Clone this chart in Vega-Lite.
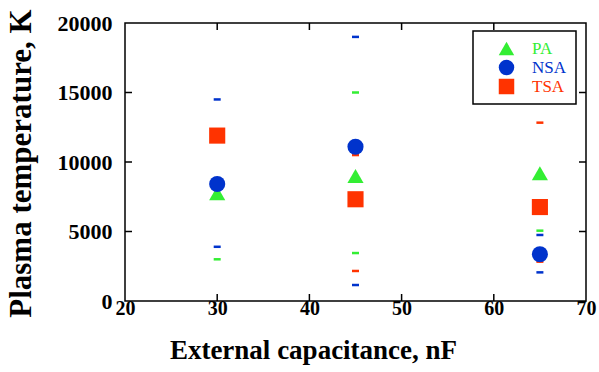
{
  "$schema": "https://vega.github.io/schema/vega-lite/v6.json",
  "autosize": {"type": "none"},
  "width": 461,
  "height": 278,
  "padding": {"left": 125, "top": 23, "right": 13, "bottom": 71},
  "background": "white",
  "config": {
    "view": {"stroke": "black", "strokeWidth": 1.5},
    "font": "Liberation Serif"
  },
  "datasets": {
    "xt": [
      {"c": 30, "t": 0}, {"c": 40, "t": 0}, {"c": 50, "t": 0}, {"c": 60, "t": 0},
      {"c": 30, "t": 20000}, {"c": 40, "t": 20000}, {"c": 50, "t": 20000}, {"c": 60, "t": 20000}
    ],
    "yt": [
      {"c": 20, "t": 5000}, {"c": 20, "t": 10000}, {"c": 20, "t": 15000},
      {"c": 70, "t": 5000}, {"c": 70, "t": 10000}, {"c": 70, "t": 15000}
    ],
    "caps": [
      {"c": 30, "t": 14500, "s": "NSA"},
      {"c": 30, "t": 3900, "s": "NSA"},
      {"c": 30, "t": 3000, "s": "PA"},
      {"c": 45, "t": 19000, "s": "NSA"},
      {"c": 45, "t": 15000, "s": "PA"},
      {"c": 45, "t": 10500, "s": "TSA"},
      {"c": 45, "t": 3450, "s": "PA"},
      {"c": 45, "t": 2160, "s": "TSA"},
      {"c": 45, "t": 1150, "s": "NSA"},
      {"c": 65, "t": 12830, "s": "TSA"},
      {"c": 65, "t": 5060, "s": "PA"},
      {"c": 65, "t": 4750, "s": "NSA"},
      {"c": 65, "t": 2830, "s": "TSA"},
      {"c": 65, "t": 2060, "s": "NSA"}
    ],
    "points": [
      {"c": 30, "t": 7750, "s": "PA"},
      {"c": 45, "t": 9000, "s": "PA"},
      {"c": 65, "t": 9190, "s": "PA"},
      {"c": 30, "t": 11900, "s": "TSA"},
      {"c": 45, "t": 7320, "s": "TSA"},
      {"c": 65, "t": 6760, "s": "TSA"},
      {"c": 30, "t": 8420, "s": "NSA"},
      {"c": 45, "t": 11100, "s": "NSA"},
      {"c": 65, "t": 3360, "s": "NSA"}
    ]
  },
  "layer": [
    {
      "data": {"name": "xt"},
      "mark": {"type": "tick", "orient": "vertical", "size": 14, "thickness": 1.5, "color": "black", "opacity": 1, "clip": true},
      "encoding": {
        "x": {"field": "c", "type": "quantitative",
              "scale": {"domain": [20, 70], "nice": false},
              "axis": {"orient": "bottom", "values": [20, 30, 40, 50, 60, 70], "format": "d", "grid": false, "zindex": 2, "domain": false,
                       "ticks": false,
                       "labelFont": "Liberation Serif", "labelFontWeight": "bold", "labelFontSize": 20, "labelColor": "black",
                       "labelPadding": 7, "labelBaseline": "middle", "labelFlush": false, "labelOverlap": false,
                       "title": "External capacitance, nF", "titleFont": "Liberation Serif", "titleFontWeight": "bold", "titleColor": "black",
                       "titleFontSize": 27, "titleX": 188, "titleY": 49, "titleBaseline": "middle", "titleAlign": "center"}},
        "y": {"field": "t", "type": "quantitative",
              "scale": {"domain": [0, 20000], "nice": false},
              "axis": {"orient": "left", "values": [0, 5000, 10000, 15000, 20000], "format": "d", "grid": false, "zindex": 2, "domain": false,
                       "ticks": false,
                       "labelFont": "Liberation Serif", "labelFontWeight": "bold", "labelFontSize": 22, "labelColor": "black",
                       "labelPadding": 13, "labelAlign": "right", "labelBaseline": "middle", "labelFlush": false, "labelOverlap": false,
                       "title": "Plasma temperature, K", "titleFont": "Liberation Serif", "titleFontWeight": "bold", "titleColor": "black",
                       "titleFontSize": 31, "titleX": -104, "titleY": 140, "titleBaseline": "middle", "titleAlign": "center", "titleAngle": -90}}
      }
    },
    {
      "data": {"name": "yt"},
      "mark": {"type": "tick", "orient": "horizontal", "size": 14, "thickness": 1.5, "color": "black", "opacity": 1, "clip": true},
      "encoding": {
        "x": {"field": "c", "type": "quantitative", "scale": {"domain": [20, 70], "nice": false}},
        "y": {"field": "t", "type": "quantitative", "scale": {"domain": [0, 20000], "nice": false}}
      }
    },
    {
      "data": {"name": "caps"},
      "mark": {"type": "tick", "orient": "horizontal", "size": 7, "thickness": 2.5, "opacity": 1},
      "encoding": {
        "x": {"field": "c", "type": "quantitative", "scale": {"domain": [20, 70], "nice": false}},
        "y": {"field": "t", "type": "quantitative", "scale": {"domain": [0, 20000], "nice": false}},
        "color": {"field": "s", "type": "nominal",
                  "scale": {"domain": ["PA", "NSA", "TSA"], "range": ["#33ee33", "#0033cc", "#ff3300"]},
                  "legend": {
                    "title": null,
                    "orient": "none",
                    "legendX": 348,
                    "legendY": 8,
                    "strokeColor": "black",
                    "fillColor": "white",
                    "padding": 9,
                    "symbolSize": 240,
                    "symbolOffset": 16,
                    "symbolStrokeWidth": 0,
                    "symbolOpacity": 1,
                    "labelOffset": 17,
                    "labelFont": "Liberation Serif",
                    "labelFontSize": 17,
                    "rowPadding": 1,
                    "encode": {
                      "legend": {"update": {"strokeWidth": {"value": 1.5}}},
                      "labels": {"update": {"fill": {"signal": "datum.value === 'PA' ? '#33ee33' : datum.value === 'NSA' ? '#0033cc' : '#ff3300'"}}}
                    }
                  }},
        "shape": {"field": "s", "type": "nominal",
                  "scale": {"domain": ["PA", "NSA", "TSA"], "range": ["triangle-up", "circle", "square"]}}
      }
    },
    {
      "data": {"name": "points"},
      "mark": {"type": "point", "filled": true, "opacity": 1, "size": 260},
      "encoding": {
        "x": {"field": "c", "type": "quantitative", "scale": {"domain": [20, 70], "nice": false}},
        "y": {"field": "t", "type": "quantitative", "scale": {"domain": [0, 20000], "nice": false}},
        "color": {"field": "s", "type": "nominal",
                  "scale": {"domain": ["PA", "NSA", "TSA"], "range": ["#33ee33", "#0033cc", "#ff3300"]}},
        "shape": {"field": "s", "type": "nominal",
                  "scale": {"domain": ["PA", "NSA", "TSA"], "range": ["triangle-up", "circle", "square"]}}
      }
    }
  ]
}
